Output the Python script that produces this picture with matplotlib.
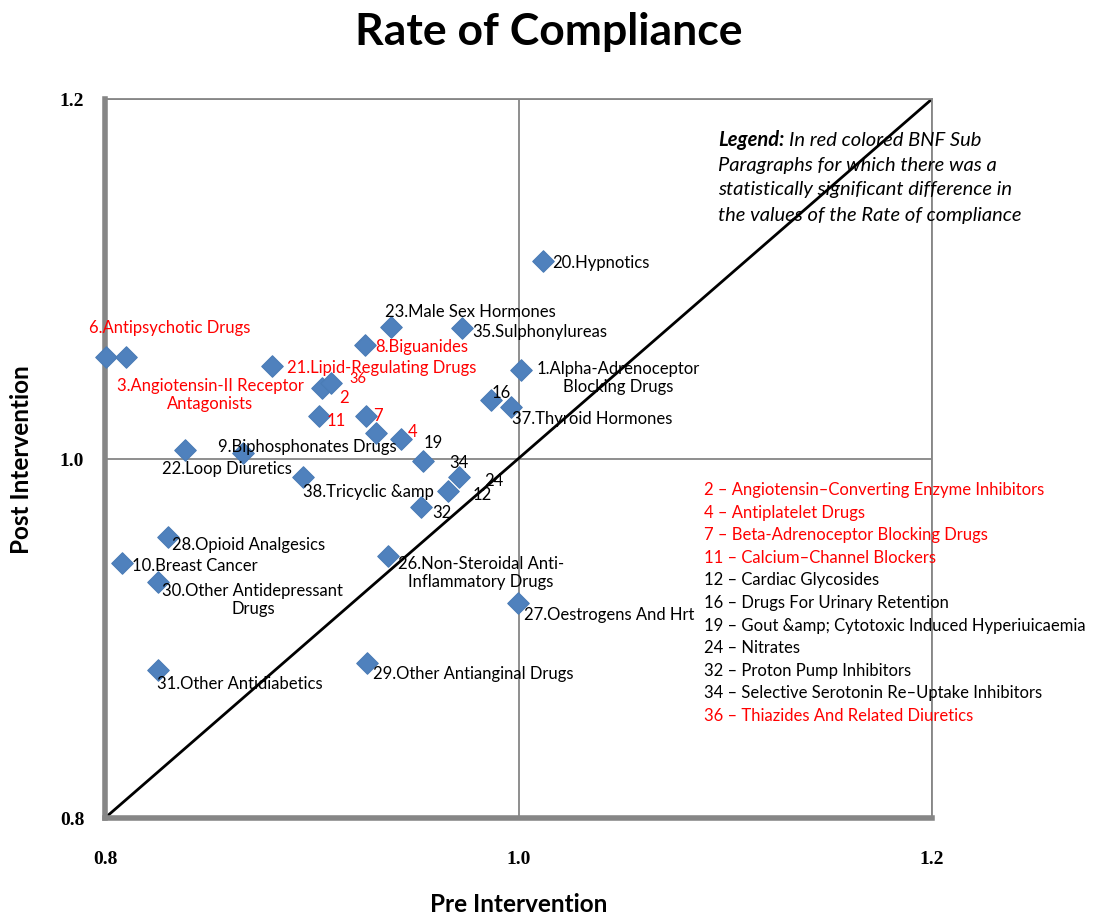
import matplotlib
matplotlib.use("Agg")
import matplotlib.pyplot as plt

plt.rcParams['font.family'] = ['Lato', 'DejaVu Sans']

# BNF sub paragraph ids, names, pre / post intervention rate of compliance
ids = [6, 3, 22, 9, 21, 38, 2, 36, 11, 8, 23, 35, 20, 1, 16, 37, 7, 24, 4, 19,
       34, 12, 32, 28, 10, 30, 31, 26, 27, 29]
names = ["Antipsychotic Drugs", "Angiotensin-II Receptor\nAntagonists", "Loop Diuretics",
         "Biphosphonates Drugs", "Lipid-Regulating Drugs", "Tricyclic &amp", "", "", "",
         "Biguanides", "Male Sex Hormones", "Sulphonylureas", "Hypnotics",
         "Alpha-Adrenoceptor\nBlocking Drugs", "", "Thyroid Hormones", "", "", "", "",
         "", "", "", "Opioid Analgesics", "Breast Cancer", "Other Antidepressant\nDrugs",
         "Other Antidiabetics", "Non-Steroidal Anti-\nInflammatory Drugs",
         "Oestrogens And Hrt", "Other Antianginal Drugs"]
pre = [0.8005, 0.8102, 0.8387, 0.8667, 0.8808, 0.8958, 0.9050, 0.9093, 0.9035, 0.9258,
       0.9383, 0.9727, 1.0118, 1.0012, 0.9867, 0.9964, 0.9262, 0.9311, 0.9432, 0.9538,
       0.9712, 0.9659, 0.9528, 0.8305, 0.8082, 0.8256, 0.8256, 0.9369, 0.9998, 0.9267]
post = [1.0565, 1.0565, 1.0047, 1.0031, 1.0515, 0.9897, 1.0392, 1.0420, 1.0236, 1.0631,
        1.0732, 1.0726, 1.1099, 1.0492, 1.0325, 1.0287, 1.0236, 1.0142, 1.0108, 0.9986,
        0.9897, 0.9819, 0.9730, 0.9563, 0.9419, 0.9313, 0.8823, 0.9458, 0.9196, 0.8862]
significant = [2, 3, 4, 6, 7, 8, 11, 21, 36]

note_ids = [2, 4, 7, 11, 12, 16, 19, 24, 32, 34, 36]
note_names = ["Angiotensin–Converting Enzyme Inhibitors", "Antiplatelet Drugs",
              "Beta-Adrenoceptor Blocking Drugs", "Calcium–Channel Blockers",
              "Cardiac Glycosides", "Drugs For Urinary Retention",
              "Gout &amp; Cytotoxic Induced Hyperiuicaemia", "Nitrates",
              "Proton Pump Inhibitors", "Selective Serotonin Re–Uptake Inhibitors",
              "Thiazides And Related Diuretics"]

ticks = [0.8, 1.0, 1.2]

# label placement (offset in pixels from the marker, alignment)
offsets = {6: (-17, 30, 'left'), 3: (84, -37, 'center'), 22: (-23, -18, 'left'),
           9: (-25, 7, 'left'), 21: (15, -1, 'left'), 38: (0, -14, 'left'),
           2: (17, -9, 'left'), 36: (18, 5, 'left'), 11: (8, -4, 'left'),
           8: (10, -1, 'left'), 23: (-6, 16, 'left'), 35: (10, -3, 'left'),
           20: (9, -1, 'left'), 1: (97, -7, 'center'), 16: (1, 8, 'left'),
           37: (1, -11, 'left'), 7: (7, 1, 'left'), 24: (108, -47, 'left'),
           4: (7, 8, 'left'), 19: (1, 19, 'left'), 34: (-10, 15, 'left'),
           12: (25, -3, 'left'), 32: (11, -5, 'left'), 28: (4, -7, 'left'),
           10: (10, -2, 'left'), 30: (95, -17, 'center'), 31: (-1, -13, 'left'),
           26: (93, -16, 'center'), 27: (6, -11, 'left'), 29: (6, -10, 'left')}

W, H = 1106, 920
fig = plt.figure(figsize=(W / 100, H / 100), dpi=100)
ax = fig.add_axes([105 / W, 1 - 819 / H, (932 - 105) / W, (819 - 100) / H])

lo, hi = ticks[0], ticks[-1]
ax.set_xlim(lo, hi)
ax.set_ylim(lo, hi)
ax.plot([lo, hi], [lo, hi], color='black', lw=2, zorder=2)
ax.scatter(pre, post, marker='D', s=120, color='#4F81BD', edgecolor='#4A7CB6',
           linewidth=0.8, zorder=3, clip_on=False)

for i, n, x, y in zip(ids, names, pre, post):
    dx, dy, ha = offsets[i]
    txt = f"{i}.{n}" if n else str(i)
    col = 'red' if i in significant else 'black'
    size = 10.5 if i == 36 else 12
    ax.annotate(txt, (x, y), xytext=(dx, dy), textcoords='offset pixels',
                ha=ha, va='center', color=col, fontsize=size, annotation_clip=False,
                multialignment='center', linespacing=1.2, zorder=4)

ax.set_xticks(ticks)
ax.set_yticks(ticks)
ax.set_xticklabels([f"{t:.1f}" for t in ticks], family='Liberation Serif',
                   fontweight='bold', fontsize=14)
ax.set_yticklabels([f"{t:.1f}" for t in ticks], family='Liberation Serif',
                   fontweight='bold', fontsize=14)
ax.tick_params(axis='x', length=0, pad=23)
ax.tick_params(axis='y', length=0, pad=15)
ax.grid(True, color='#868686', lw=1.3)
ax.set_axisbelow(True)
for side in ['left', 'bottom']:
    ax.spines[side].set_color('#868686')
    ax.spines[side].set_linewidth(4)
for side in ['top', 'right']:
    ax.spines[side].set_color('#868686')
    ax.spines[side].set_linewidth(1.3)

ax.set_xlabel("Pre Intervention", fontsize=17.5, fontweight='bold', va='center')
ax.set_ylabel("Post Intervention", fontsize=17.5, fontweight='bold', va='center')
ax.xaxis.set_label_coords(0.5, -(905 - 819) / (819 - 100))
ax.yaxis.set_label_coords(-(105 - 22) / (932 - 105), 0.5)
fig.text(549 / W, 1 - 32 / H, "Rate of Compliance", fontsize=32, fontweight='bold',
         ha='center', va='center')

# legend note
lead = fig.text(718 / W, 1 - 140 / H, "Legend:", fontsize=14.5, fontweight='bold',
                style='italic', va='center')
bb = lead.get_window_extent(renderer=fig.canvas.get_renderer())
fig.text((bb.x1 + 5) / W, 1 - 140 / H, "In red colored BNF Sub", fontsize=14.5,
         style='italic', va='center')
legend_lines = ["Paragraphs for which there was a",
                "statistically significant difference in",
                "the values of the Rate of compliance"]
for k, line in enumerate(legend_lines):
    fig.text(718 / W, 1 - (165 + 25 * k) / H, line, fontsize=14.5, style='italic',
             va='center')

# numbered list
for k, (i, n) in enumerate(zip(note_ids, note_names)):
    col = 'red' if i in significant else 'black'
    fig.text(704 / W, 1 - (490 + 22.6 * k) / H, f"{i} – {n}", fontsize=12,
             color=col, va='center')

fig.savefig("out.png", dpi=100)
